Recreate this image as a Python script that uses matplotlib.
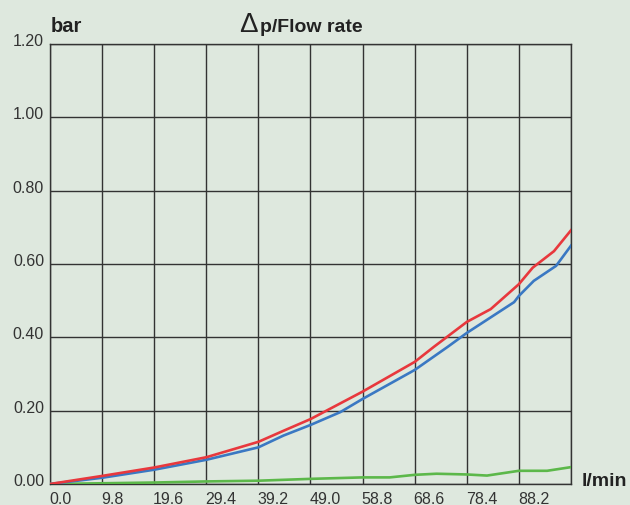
"""Delta-p / flow rate chart."""

import matplotlib

matplotlib.use("Agg")
import matplotlib.pyplot as plt
import matplotlib.transforms as mtransforms

# flow rate (l/min) and pressure drop (bar)
red_x = [0.0, 9.8, 19.6, 29.4, 39.2, 43.9, 49.0, 58.8, 68.6, 72.2, 78.4, 82.9, 88.2, 90.8, 94.8, 98.0]
red_y = [0.0, 0.022, 0.045, 0.073, 0.115, 0.145, 0.177, 0.252, 0.333, 0.374, 0.442, 0.477, 0.545, 0.590, 0.635, 0.692]

blue_x = [0.0, 9.8, 19.6, 29.4, 39.2, 43.9, 49.0, 54.6, 58.8, 68.6, 74.8, 78.4, 87.3, 88.2, 91.0, 95.2, 98.0]
blue_y = [0.0, 0.017, 0.039, 0.066, 0.100, 0.132, 0.161, 0.196, 0.232, 0.311, 0.374, 0.412, 0.496, 0.513, 0.554, 0.595, 0.650]

green_x = [0.0, 9.8, 19.6, 29.4, 39.2, 49.0, 58.8, 63.9, 68.6, 72.7, 78.4, 82.2, 88.2, 93.5, 98.0]
green_y = [0.0, 0.002, 0.004, 0.007, 0.009, 0.014, 0.018, 0.018, 0.025, 0.028, 0.026, 0.023, 0.036, 0.036, 0.046]

x_ticks = [0.0, 9.8, 19.6, 29.4, 39.2, 49.0, 58.8, 68.6, 78.4, 88.2, 98.0]
y_ticks = [0.0, 0.2, 0.4, 0.6, 0.8, 1.0, 1.2]

BG = "#dee8de"
GRID = "#333333"
TXT = "#333333"


def main() -> None:
    plt.rcParams["font.family"] = ["Liberation Sans", "DejaVu Sans"]
    fig = plt.figure(figsize=(6.30, 5.06), dpi=100, facecolor=BG)
    ax = fig.add_axes([50 / 630, 21 / 506, 521 / 630, 440 / 506])
    ax.set_facecolor(BG)

    ax.plot(green_x, green_y, color="#5cb84a", lw=1.9, solid_joinstyle="round", zorder=3)
    ax.plot(blue_x, blue_y, color="#3a78c3", lw=1.9, solid_joinstyle="round", zorder=4)
    ax.plot(red_x, red_y, color="#e8383d", lw=1.9, solid_joinstyle="round", zorder=5)

    ax.set_xlim(0, 98.0)
    ax.set_ylim(0, 1.2)
    ax.set_xticks(x_ticks)
    ax.set_yticks(y_ticks)
    ax.set_xticklabels([])
    ax.set_yticklabels([])
    ax.tick_params(length=0)
    ax.grid(True, color=GRID, lw=1.0)
    for s in ax.spines.values():
        s.set_color(GRID)
        s.set_linewidth(1.0)

    # y labels sit on the gridline, x labels start at the gridline
    ty = mtransforms.blended_transform_factory(ax.transAxes, ax.transData)
    off_y = mtransforms.offset_copy(ty, fig=fig, x=-6, y=-1, units="dots")
    for v in y_ticks:
        ax.text(0, v, f"{v:.2f}", transform=off_y, ha="right", va="baseline",
                fontsize=11.5, color=TXT)
    tx = mtransforms.blended_transform_factory(ax.transData, ax.transAxes)
    off_x = mtransforms.offset_copy(tx, fig=fig, x=-1, y=-7, units="dots")
    for v in x_ticks[:-1]:
        ax.text(v, 0, f"{v:.1f}", transform=off_x, ha="left", va="top",
                fontsize=11.5, color=TXT)

    fig.text(51 / 630, 1 - 32 / 506, "bar", ha="left", va="baseline",
             fontsize=14.5, fontweight="bold", color="#222222")
    fig.text(239 / 630, 1 - 32 / 506, "\u0394", ha="left", va="baseline",
             fontsize=20, color="#222222")
    fig.text(260 / 630, 1 - 32 / 506, "p/Flow rate", ha="left", va="baseline",
             fontsize=14, fontweight="bold", color="#222222")
    fig.text(582 / 630, 1 - 486 / 506, "l/min", ha="left", va="baseline",
             fontsize=14, fontweight="bold", color="#222222")

    fig.savefig("out.png", dpi=100, facecolor=BG)
    plt.close(fig)


if __name__ == "__main__":
    main()
